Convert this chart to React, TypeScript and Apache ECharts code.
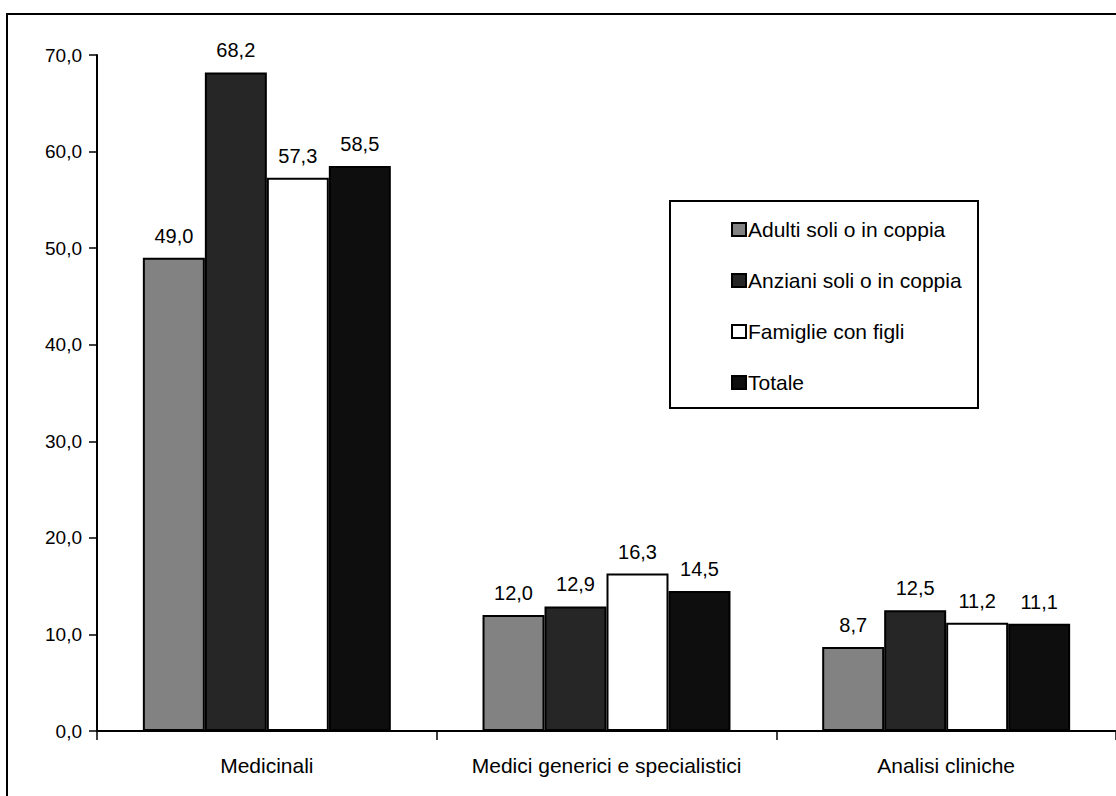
import React, { useEffect, useRef } from "react";
import * as echarts from "echarts";

const categories = ["Medicinali", "Medici generici e specialistici", "Analisi cliniche"];
const seriesNames = ["Adulti soli o in coppia", "Anziani soli o in coppia", "Famiglie con figli", "Totale"];
const adulti = [49.0, 12.0, 8.7];
const anziani = [68.2, 12.9, 12.5];
const famiglie = [57.3, 16.3, 11.2];
const totale = [58.5, 14.5, 11.1];
const seriesValues = [adulti, anziani, famiglie, totale];
const seriesColors = ["#828282", "#262626", "#ffffff", "#0e0e0e"];

const fmt = (v: number) => v.toFixed(1).replace(".", ",");

export default function App() {
  const ref = useRef<HTMLDivElement>(null);
  useEffect(() => {
    if (!ref.current) return;
    const chart = echarts.init(ref.current, null, { renderer: "svg" });
    const font = "Liberation Sans, Arial, sans-serif";
    chart.setOption({
      animation: false,
      backgroundColor: "#ffffff",
      textStyle: { fontFamily: font },
      grid: { left: 97, right: 0, top: 55, bottom: 65, containLabel: false },
      xAxis: {
        type: "category",
        data: categories,
        axisLine: { lineStyle: { color: "#000", width: 2 } },
        axisTick: { show: true, interval: 0, length: 9, lineStyle: { color: "#000", width: 1.5 } },
        axisLabel: { color: "#000", fontSize: 21, fontFamily: font, margin: 24, interval: 0, hideOverlap: false },
      },
      yAxis: {
        type: "value",
        min: 0,
        max: 70,
        interval: 10,
        splitLine: { show: false },
        axisLine: { show: true, lineStyle: { color: "#000", width: 2 } },
        axisTick: { show: true, length: 8, lineStyle: { color: "#000", width: 1.5 } },
        axisLabel: { color: "#000", fontSize: 19, fontFamily: font, margin: 15, formatter: (v: number) => fmt(v) },
      },
      legend: {
        orient: "vertical",
        left: 726,
        top: 214,
        itemWidth: 14,
        itemHeight: 13,
        itemGap: 30,
        icon: "rect",
        textStyle: { fontSize: 21, color: "#000", fontFamily: font, padding: [0, 0, 0, -3] },
        data: seriesNames,
      },
      graphic: [
        {
          type: "rect",
          shape: { x: 670, y: 201, width: 308, height: 207 },
          style: { fill: "none", stroke: "#000", lineWidth: 2 },
          z: 10,
        },
        {
          type: "rect",
          shape: { x: 7, y: 14, width: 1130, height: 800 },
          style: { fill: "none", stroke: "#000", lineWidth: 2 },
          z: 10,
        },
      ],
      series: seriesNames.map((name, i) => ({
        name,
        type: "bar",
        data: seriesValues[i],
        barGap: "0%",
        barCategoryGap: "27%",
        itemStyle: { color: seriesColors[i], borderColor: "#000", borderWidth: 2 },
        label: {
          show: true,
          position: "top",
          distance: 12,
          fontSize: 20,
          color: "#000",
          fontFamily: font,
          formatter: (p: any) => fmt(p.value),
        },
      })),
    });
    return () => chart.dispose();
  }, []);
  return <div ref={ref} style={{ position: "fixed", left: 0, top: 0, width: 1116, height: 796 }} />;
}
